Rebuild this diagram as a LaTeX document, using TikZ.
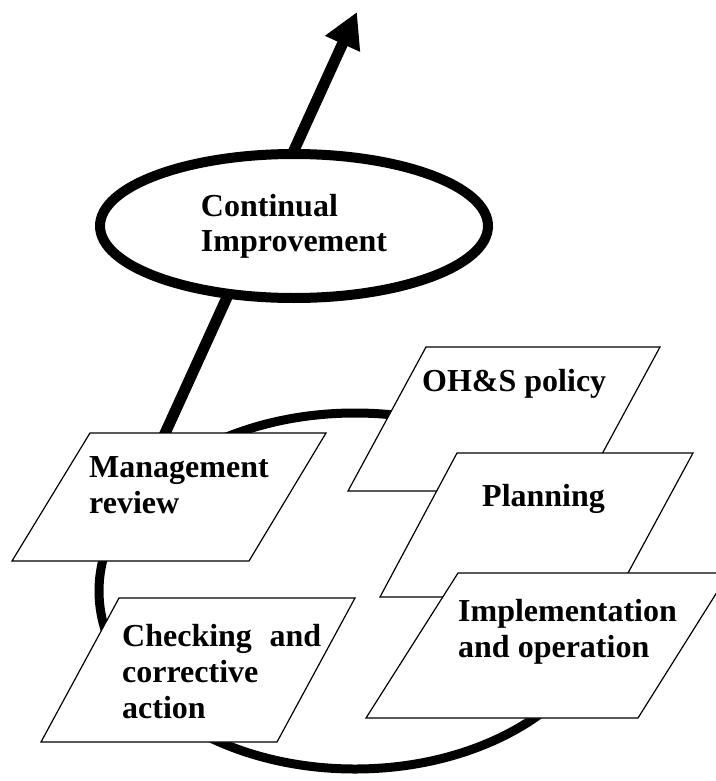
\documentclass[tikz,border=0pt]{standalone}
\usepackage{fontspec}
\setmainfont{Liberation Serif}
\usetikzlibrary{arrows.meta,shapes.geometric}

\tikzset{
  stagebox/.style={draw, line width=1.2pt, fill=white},
  stagetext/.style={anchor=base west, inner sep=0pt, align=left,
    font=\fontsize{32}{36}\selectfont\bfseries}
}

\begin{document}
\begin{tikzpicture}[x=1pt, y=-1pt]
        \useasboundingbox (0,0) rectangle (715,781);

        % Draw the big cycle behind the stages
        \node[ellipse, draw, line width=9pt, minimum width=512pt, minimum height=356pt] (cycle) at (355,591) {};

        % Draw the improvement arrow
        \coordinate (revtop) at (162,440);
        \coordinate (tip) at (357,12);
        \draw[line width=11pt, -{Triangle[length=35pt, width=36pt]}] (revtop) -- (tip);

        % Draw the continual improvement ellipse on top of the arrow
        \node[ellipse, draw, fill=white, line width=10pt, minimum width=388pt, minimum height=144pt,
              inner sep=0pt, align=left, font=\fontsize{32}{35}\selectfont\bfseries]
              (improve) at (294,226) {Continual\\Improvement};

        % Draw the policy box
        \draw[stagebox] (426,347) -- (660,347) -- (582,491) -- (348,491) -- cycle;
        \node[stagetext] (policy) at (422,391) {OH\&S policy};

        % Draw the planning box
        \draw[stagebox] (457,453) -- (693,453) -- (615,597) -- (380,597) -- cycle;
        \node[stagetext] (planning) at (482,506) {Planning};

        % Draw the implementation box (base is the last line)
        \draw[stagebox] (458,573) -- (729,573) -- (638,718) -- (366,718) -- cycle;
        \node[stagetext] (implement) at (458,657) {Implementation\\and operation};

        % Draw the review box
        \draw[stagebox] (90,433) -- (326,433) -- (249,561) -- (12,561) -- cycle;
        \node[stagetext] (review) at (89,513) {Management\\review};

        % Draw the checking box
        \draw[stagebox] (119,598) -- (355,598) -- (277,742) -- (41,742) -- cycle;
        \node[stagetext] (checking) at (122,718) {\makebox[199pt][s]{Checking and}\\corrective\\action};

\end{tikzpicture}
\end{document}
